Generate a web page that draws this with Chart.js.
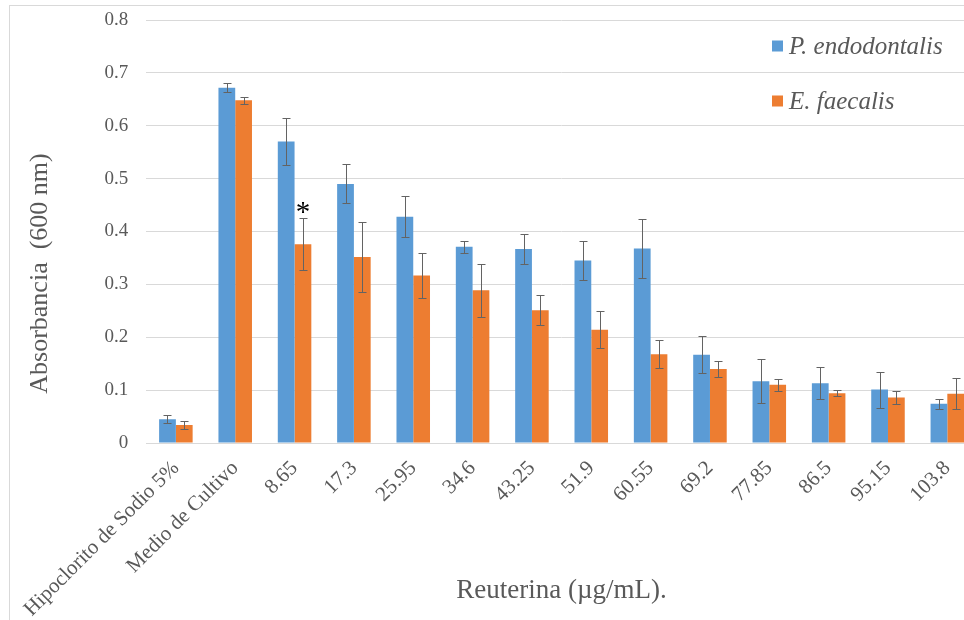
<!DOCTYPE html>
<html>
<head>
<meta charset="utf-8">
<script src="https://cdn.jsdelivr.net/npm/chart.js@4.4.1/dist/chart.umd.min.js"></script>
<style>
  html, body { margin: 0; padding: 0; background: #fff; overflow: hidden; width: 964px; height: 620px; }
  #frame { position: absolute; left: 9px; top: 5px; width: 985px; height: 620px; border: 1px solid #d9d9d9; }
  canvas { display: block; }
</style>
</head>
<body>
<div id="frame"><canvas id="chart" width="985" height="620"></canvas></div>
<script>
// Reuterina concentrations (µg/mL) plus the two controls
const categories = ['Hipoclorito de Sodio 5%', 'Medio de Cultivo', '8.65', '17.3', '25.95', '34.6',
  '43.25', '51.9', '60.55', '69.2', '77.85', '86.5', '95.15', '103.8'];

const seriesNames = ['P. endodontalis', 'E. faecalis'];

// Mean absorbance at 600 nm and its error
const pEndodontalis    = [0.045, 0.672, 0.570, 0.490, 0.428, 0.371, 0.367, 0.345, 0.368, 0.167, 0.117, 0.113, 0.101, 0.074];
const pEndodontalisErr = [0.008, 0.008, 0.044, 0.037, 0.039, 0.011, 0.029, 0.037, 0.056, 0.035, 0.042, 0.030, 0.034, 0.010];
const eFaecalis        = [0.034, 0.648, 0.376, 0.352, 0.317, 0.289, 0.251, 0.214, 0.168, 0.140, 0.110, 0.094, 0.086, 0.093];
const eFaecalisErr     = [0.008, 0.007, 0.049, 0.066, 0.043, 0.050, 0.028, 0.035, 0.026, 0.016, 0.011, 0.006, 0.012, 0.029];

const yTickLabels = ['0', '0.1', '0.2', '0.3', '0.4', '0.5', '0.6', '0.7', '0.8'];

const xTitle = 'Reuterina (\u00b5g/mL).';
const yTitle = 'Absorbancia  (600 nm)';

// Significance marker: series index, category index, symbol
const significance = [{ series: 1, index: 2, mark: '*' }];

const seriesErrors = [pEndodontalisErr, eFaecalisErr];
const seriesColors = ['#5b9bd5', '#ed7d31'];
const FONT = "'Liberation Serif', 'Times New Roman', serif";
const TEXT = '#595959';

// Whiskers drawn on top of each bar
const errorBars = {
  id: 'errorBars',
  afterDatasetsDraw(chart) {
    const { ctx, scales: { y } } = chart;
    ctx.save();
    ctx.strokeStyle = '#636363';
    ctx.lineWidth = 1;
    chart.data.datasets.forEach((ds, di) => {
      const errs = seriesErrors[di];
      chart.getDatasetMeta(di).data.forEach((bar, i) => {
        const v = ds.data[i], e = errs[i];
        const x = Math.round(bar.x) + 0.5;
        const yt = Math.round(y.getPixelForValue(v + e)) + 0.5;
        const yb = Math.round(y.getPixelForValue(v - e)) + 0.5;
        ctx.beginPath();
        ctx.moveTo(x, yt); ctx.lineTo(x, yb);
        ctx.moveTo(x - 4, yt); ctx.lineTo(x + 4, yt);
        ctx.moveTo(x - 4, yb); ctx.lineTo(x + 4, yb);
        ctx.stroke();
      });
    });
    // significance asterisks above the upper whisker
    ctx.fillStyle = '#000';
    ctx.font = '29px ' + FONT;
    ctx.textAlign = 'center';
    ctx.textBaseline = 'alphabetic';
    significance.forEach(s => {
      const bar = chart.getDatasetMeta(s.series).data[s.index];
      const v = chart.data.datasets[s.series].data[s.index] + seriesErrors[s.series][s.index];
      ctx.fillText(s.mark, bar.x, y.getPixelForValue(v) + 3);
    });
    ctx.restore();
  }
};

// Legend inside the plot area, upper right, plus the vertical axis title
const extras = {
  id: 'extras',
  afterDraw(chart) {
    const { ctx, chartArea: a } = chart;
    ctx.save();
    ctx.font = 'italic 25px ' + FONT;
    ctx.textBaseline = 'middle';
    ctx.textAlign = 'left';
    chart.data.datasets.forEach((ds, i) => {
      const cy = a.top + 26 + i * 55;
      const x0 = a.right - 205;
      ctx.fillStyle = ds.backgroundColor;
      ctx.fillRect(x0, cy - 5.5, 11, 11);
      ctx.fillStyle = TEXT;
      ctx.fillText(ds.label, x0 + 17, cy + 1);
    });
    ctx.translate(30, (a.top + a.bottom) / 2 + 42);
    ctx.rotate(-Math.PI / 2);
    ctx.font = '26px ' + FONT;
    ctx.textAlign = 'center';
    ctx.fillStyle = TEXT;
    ctx.fillText(yTitle, 0, 0);
    ctx.restore();
  }
};

new Chart(document.getElementById('chart'), {
  type: 'bar',
  data: {
    labels: categories,
    datasets: [
      { label: seriesNames[0], data: pEndodontalis, backgroundColor: seriesColors[0], borderWidth: 0,
        categoryPercentage: 0.565, barPercentage: 1 },
      { label: seriesNames[1], data: eFaecalis, backgroundColor: seriesColors[1], borderWidth: 0,
        categoryPercentage: 0.565, barPercentage: 1 }
    ]
  },
  options: {
    responsive: false,
    animation: false,
    devicePixelRatio: 1,
    layout: { padding: { left: 0, right: 18, top: 14, bottom: 0 } },
    plugins: { legend: { display: false }, tooltip: { enabled: false } },
    scales: {
      x: {
        grid: { display: false, drawTicks: false },
        border: { color: '#d9d9d9' },
        ticks: { autoSkip: false, minRotation: 45, maxRotation: 45, color: TEXT,
                 font: { family: FONT, size: 21 }, padding: 13 },
        title: { display: true, text: xTitle, color: TEXT, font: { family: FONT, size: 27 },
                 padding: { top: 0, bottom: 19 } },
        afterFit(s) { s.height = 183; }
      },
      y: {
        min: 0, max: 0.8,
        grid: { color: '#d9d9d9', drawTicks: true, tickLength: 18, tickColor: 'rgba(0,0,0,0)' },
        border: { display: false },
        ticks: { stepSize: 0.1, color: TEXT, font: { family: FONT, size: 19 }, padding: 0,
                 callback: (v, i) => yTickLabels[i] },
        afterFit(s) { s.width = 134.6; }
      }
    }
  },
  plugins: [errorBars, extras]
});
</script>
</body>
</html>
